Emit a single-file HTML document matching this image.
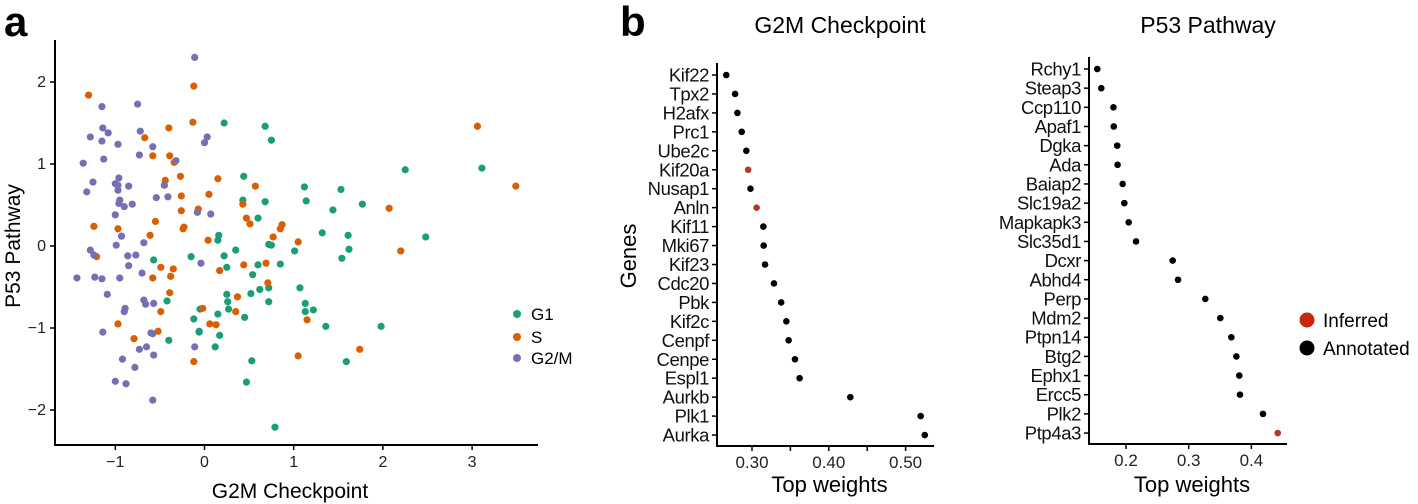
<!DOCTYPE html>
<html><head><meta charset="utf-8"><style>
html,body{margin:0;padding:0;background:#fff;}
svg{display:block;font-family:"Liberation Sans",Arial,sans-serif;}
</style></head><body>
<svg id="chart" width="1418" height="504" viewBox="0 0 1418 504">
<g id="pa"></g>
<g id="pb1"></g>
<g id="pb2"></g>
</svg>
<script>
// Panel a data
const g1X=[0.22,0.68,0.75,0.44,1.12,1.14,0.43,0.68,0.60,0.16,0.15,0.35,0.72,0.75,1.01,-0.15,0.22,-0.57,0.25,0.60,0.85,0.54,1.07,0.62,0.72,0.52,0.25,0.26,-0.42,0.72,1.13,1.13,0.27,-0.05,0.15,0.45,-0.12,-0.06,-0.06,0.17,-0.40,0.12,0.53,0.47,0.79,2.25,3.11,1.53,1.44,1.77,1.32,1.61,1.62,1.54,2.48,1.22,1.36,1.98,1.59];
const g1Y=[1.50,1.46,1.29,0.85,0.72,0.55,0.56,0.54,0.34,0.13,0.07,-0.05,0.02,0.01,-0.06,-0.13,-0.12,-0.17,-0.26,-0.23,-0.22,-0.35,-0.51,-0.53,-0.51,-0.58,-0.59,-0.68,-0.67,-0.68,-0.70,-0.80,-0.77,-0.77,-0.83,-0.87,-0.89,-1.04,-1.05,-1.09,-1.15,-1.23,-1.40,-1.66,-2.21,0.93,0.95,0.69,0.44,0.51,0.16,0.13,-0.04,-0.15,0.11,-0.78,-0.98,-0.98,-1.41];
const sX=[-1.30,-0.12,-0.13,-0.40,-0.67,-0.58,-0.39,-0.34,-0.27,0.15,-0.44,0.57,-0.26,0.05,0.43,-0.07,-0.26,0.47,0.51,0.87,0.85,0.77,-1.24,-0.97,-0.55,-0.61,-0.24,-0.23,0.04,1.05,-1.21,-0.49,-0.35,-0.38,-0.58,0.17,0.44,0.69,0.71,-0.39,0.37,-0.49,-0.02,0.35,-0.97,0.06,0.13,-0.52,-0.79,1.05,-0.12,1.15,3.06,3.49,2.07,2.20,1.74];
const sY=[1.84,1.95,1.51,1.44,1.32,1.10,1.10,1.02,0.85,0.82,0.80,0.73,0.61,0.63,0.51,0.45,0.43,0.34,0.27,0.26,0.21,0.11,0.24,0.21,0.30,0.13,0.21,0.23,0.07,0.05,-0.13,-0.26,-0.28,-0.37,-0.39,-0.30,-0.23,-0.21,-0.45,-0.57,-0.62,-0.80,-0.76,-0.80,-0.95,-0.95,-0.96,-1.04,-1.13,-1.34,-1.41,-0.90,1.46,0.73,0.46,-0.06,-1.26];
const mX=[-0.11,-1.15,-0.75,-1.14,-1.08,-1.28,-1.15,-0.97,-0.72,-0.58,0.03,0.00,-0.73,-1.13,-1.36,-0.32,-0.96,-1.25,-1.00,-0.97,-0.97,-0.85,-0.45,-1.32,-0.54,-0.41,-0.95,-0.96,-0.90,-0.81,-0.08,0.07,-1.00,-0.93,-0.99,-0.68,-1.28,-1.24,-0.86,-0.77,-0.85,-1.43,-1.23,-1.15,-0.95,-0.70,-0.04,-1.09,-0.68,-0.66,-0.57,-0.89,-0.90,-1.14,-0.60,-0.58,-0.73,-0.65,-0.57,-0.11,-0.92,-0.78,-1.00,-0.88,-0.58];
const mY=[2.30,1.70,1.73,1.44,1.38,1.33,1.28,1.24,1.40,1.21,1.33,1.26,1.11,1.06,1.01,1.04,0.83,0.78,0.76,0.74,0.68,0.73,0.74,0.66,0.59,0.60,0.56,0.52,0.48,0.51,0.41,0.39,0.38,0.12,0.01,0.04,-0.05,-0.11,-0.12,-0.11,-0.24,-0.39,-0.38,-0.40,-0.39,-0.33,-0.21,-0.59,-0.66,-0.71,-0.70,-0.76,-0.80,-1.05,-1.06,-1.07,-1.26,-1.23,-1.33,-1.23,-1.38,-1.48,-1.65,-1.68,-1.88];
const aXTicks=[-1,0,1,2,3];
const aYTicks=[-2,-1,0,1,2];
// Panel b data
const g2mGenes=["Kif22","Tpx2","H2afx","Prc1","Ube2c","Kif20a","Nusap1","Anln","Kif11","Mki67","Kif23","Cdc20","Pbk","Kif2c","Cenpf","Cenpe","Espl1","Aurkb","Plk1","Aurka"];
const g2mWeights=[0.2665,0.278,0.281,0.2866,0.2926,0.295,0.298,0.306,0.3148,0.3152,0.317,0.3286,0.338,0.3447,0.3477,0.356,0.362,0.428,0.5196,0.525];
const g2mInferred=[0,0,0,0,0,1,0,1,0,0,0,0,0,0,0,0,0,0,0,0];
const g2mTicks=[0.30,0.40,0.50];
const g2mMinor=[0.35,0.45];
const p53Genes=["Rchy1","Steap3","Ccp110","Apaf1","Dgka","Ada","Baiap2","Slc19a2","Mapkapk3","Slc35d1","Dcxr","Abhd4","Perp","Mdm2","Ptpn14","Btg2","Ephx1","Ercc5","Plk2","Ptp4a3"];
const p53Weights=[0.1542,0.1606,0.180,0.1805,0.186,0.1866,0.1947,0.1973,0.2043,0.216,0.2744,0.283,0.3265,0.3504,0.368,0.376,0.3807,0.3818,0.4185,0.442];
const p53Inferred=[0,0,0,0,0,0,0,0,0,0,0,0,0,0,0,0,0,0,0,1];
const p53Ticks=[0.2,0.3,0.4];

const NS="http://www.w3.org/2000/svg";
function mk(parent,tag,attrs,text){const e=document.createElementNS(NS,tag);for(const k in attrs)e.setAttribute(k,attrs[k]);if(text!==undefined)e.textContent=text;parent.appendChild(e);return e;}

// ---- Panel a
const pa=document.getElementById('pa');
const ax=v=>204.5+v*89.2, ay=v=>246-v*82;
let t=mk(pa,'text',{x:4,y:36,'font-size':42,'font-weight':'bold'},'a');


let l=mk(pa,'line',{x1:55,y1:40,x2:55,y2:446,stroke:'#000','stroke-width':2});


l=mk(pa,'line',{x1:54,y1:445,x2:538,y2:445,stroke:'#000','stroke-width':2});


aXTicks.forEach(v=>{
  const tk=mk(pa,'line',{x1:ax(v),y1:445,x2:ax(v),y2:450,stroke:'#000','stroke-width':1.5});
  
  
  const tl=mk(pa,'text',{x:ax(v),y:467,'font-size':16,'text-anchor':'middle',fill:'#222'},v<0?'\u2212'+(-v):String(v));
  
  
});
aYTicks.forEach(v=>{
  const tk=mk(pa,'line',{x1:50,y1:ay(v),x2:55,y2:ay(v),stroke:'#000','stroke-width':1.5});
  
  
  const tl=mk(pa,'text',{x:46,y:ay(v)+5,'font-size':16,'text-anchor':'end',fill:'#222'},v<0?'\u2212'+(-v):String(v));
  
  
});
t=mk(pa,'text',{x:290,y:498,'font-size':21,'text-anchor':'middle'},'G2M Checkpoint');


t=mk(pa,'text',{x:20,y:246,'font-size':21,'text-anchor':'middle',transform:'rotate(-90 20 246)'},'P53 Pathway');


[[g1X,g1Y,'#1b9e77','point-g1'],[sX,sY,'#d95f02','point-s'],[mX,mY,'#7570b3','point-g2m']].forEach(s=>{
  s[0].forEach((x,i)=>{
    const c=mk(pa,'circle',{cx:ax(x),cy:ay(s[1][i]),r:3.6,fill:s[2]});
    
    
  });
});
[['G1','#1b9e77',314],['S','#d95f02',337],['G2/M','#7570b3',358]].forEach(e=>{
  const g=mk(pa,'g',{});
  
  
  mk(g,'circle',{cx:517,cy:e[2],r:4,fill:e[1]});
  mk(g,'text',{x:531,y:e[2]+6,'font-size':17},e[0]);
});

// ---- Panel b
function dotPanel(g,genes,w,inf,ticks,minor,o){
  const sx=v=>o.x0+(v-o.v0)*o.k, sy=i=>o.y0+i*o.step;
  const ttl=mk(g,'text',{x:o.tx,y:33,'font-size':23,'text-anchor':'middle'},o.title);
  
  
  let a=mk(g,'line',{x1:o.ax,y1:o.top,x2:o.ax,y2:o.bot+1,stroke:'#000','stroke-width':2});
  
  
  a=mk(g,'line',{x1:o.ax-1,y1:o.bot,x2:o.right,y2:o.bot,stroke:'#000','stroke-width':2});
  
  
  genes.forEach((n,i)=>{
    const tk=mk(g,'line',{x1:o.ax-5,y1:sy(i),x2:o.ax,y2:sy(i),stroke:'#000','stroke-width':1.5});
    
    
    const lb=mk(g,'text',{x:o.ax-8,y:sy(i)+6.5,'font-size':18.5,'text-anchor':'end',fill:'#111','letter-spacing':'-0.4'},n);
    
    
    const c=mk(g,'circle',{cx:sx(w[i]),cy:sy(i),r:3.3,fill:inf[i]?'#b23a2a':'#000'});
    
    
  });
  ticks.forEach(v=>{
    const tk=mk(g,'line',{x1:sx(v),y1:o.bot,x2:sx(v),y2:o.bot+5,stroke:'#000','stroke-width':1.5});
    
    
    const tl=mk(g,'text',{x:sx(v),y:o.bot+22,'font-size':17,'text-anchor':'middle',fill:'#222'},v.toFixed(o.dec));
    
    
  });
  minor.forEach(v=>{
    const tk=mk(g,'line',{x1:sx(v),y1:o.bot,x2:sx(v),y2:o.bot+5,stroke:'#000','stroke-width':1.5});
    
    
  });
  const xt=mk(g,'text',{x:(o.ax+o.right)/2+4,y:492,'font-size':22,'text-anchor':'middle'},'Top weights');
  
  
}
const pb1=document.getElementById('pb1');
t=mk(pb1,'text',{x:620,y:36,'font-size':42,'font-weight':'bold'},'b');


t=mk(pb1,'text',{x:636,y:256,'font-size':22,'text-anchor':'middle',transform:'rotate(-90 636 256)'},'Genes');


dotPanel(pb1,g2mGenes,g2mWeights,g2mInferred,g2mTicks,g2mMinor,{x0:752,v0:0.30,k:768,y0:75,step:18.95,ax:717,top:63,bot:446,right:934,tx:840,title:'G2M Checkpoint',dec:2});
const pb2=document.getElementById('pb2');
dotPanel(pb2,p53Genes,p53Weights,p53Inferred,p53Ticks,[],{x0:1126,v0:0.2,k:627,y0:69,step:19.16,ax:1089,top:57,bot:444,right:1287,tx:1208,title:'P53 Pathway',dec:1});
[['Inferred','#c8290c',320],['Annotated','#000',348]].forEach(e=>{
  const g=mk(pb2,'g',{});
  
  
  mk(g,'circle',{cx:1307,cy:e[2],r:7.5,fill:e[1]});
  mk(g,'text',{x:1323,y:e[2]+7,'font-size':19},e[0]);
});
</script>
</body></html>
